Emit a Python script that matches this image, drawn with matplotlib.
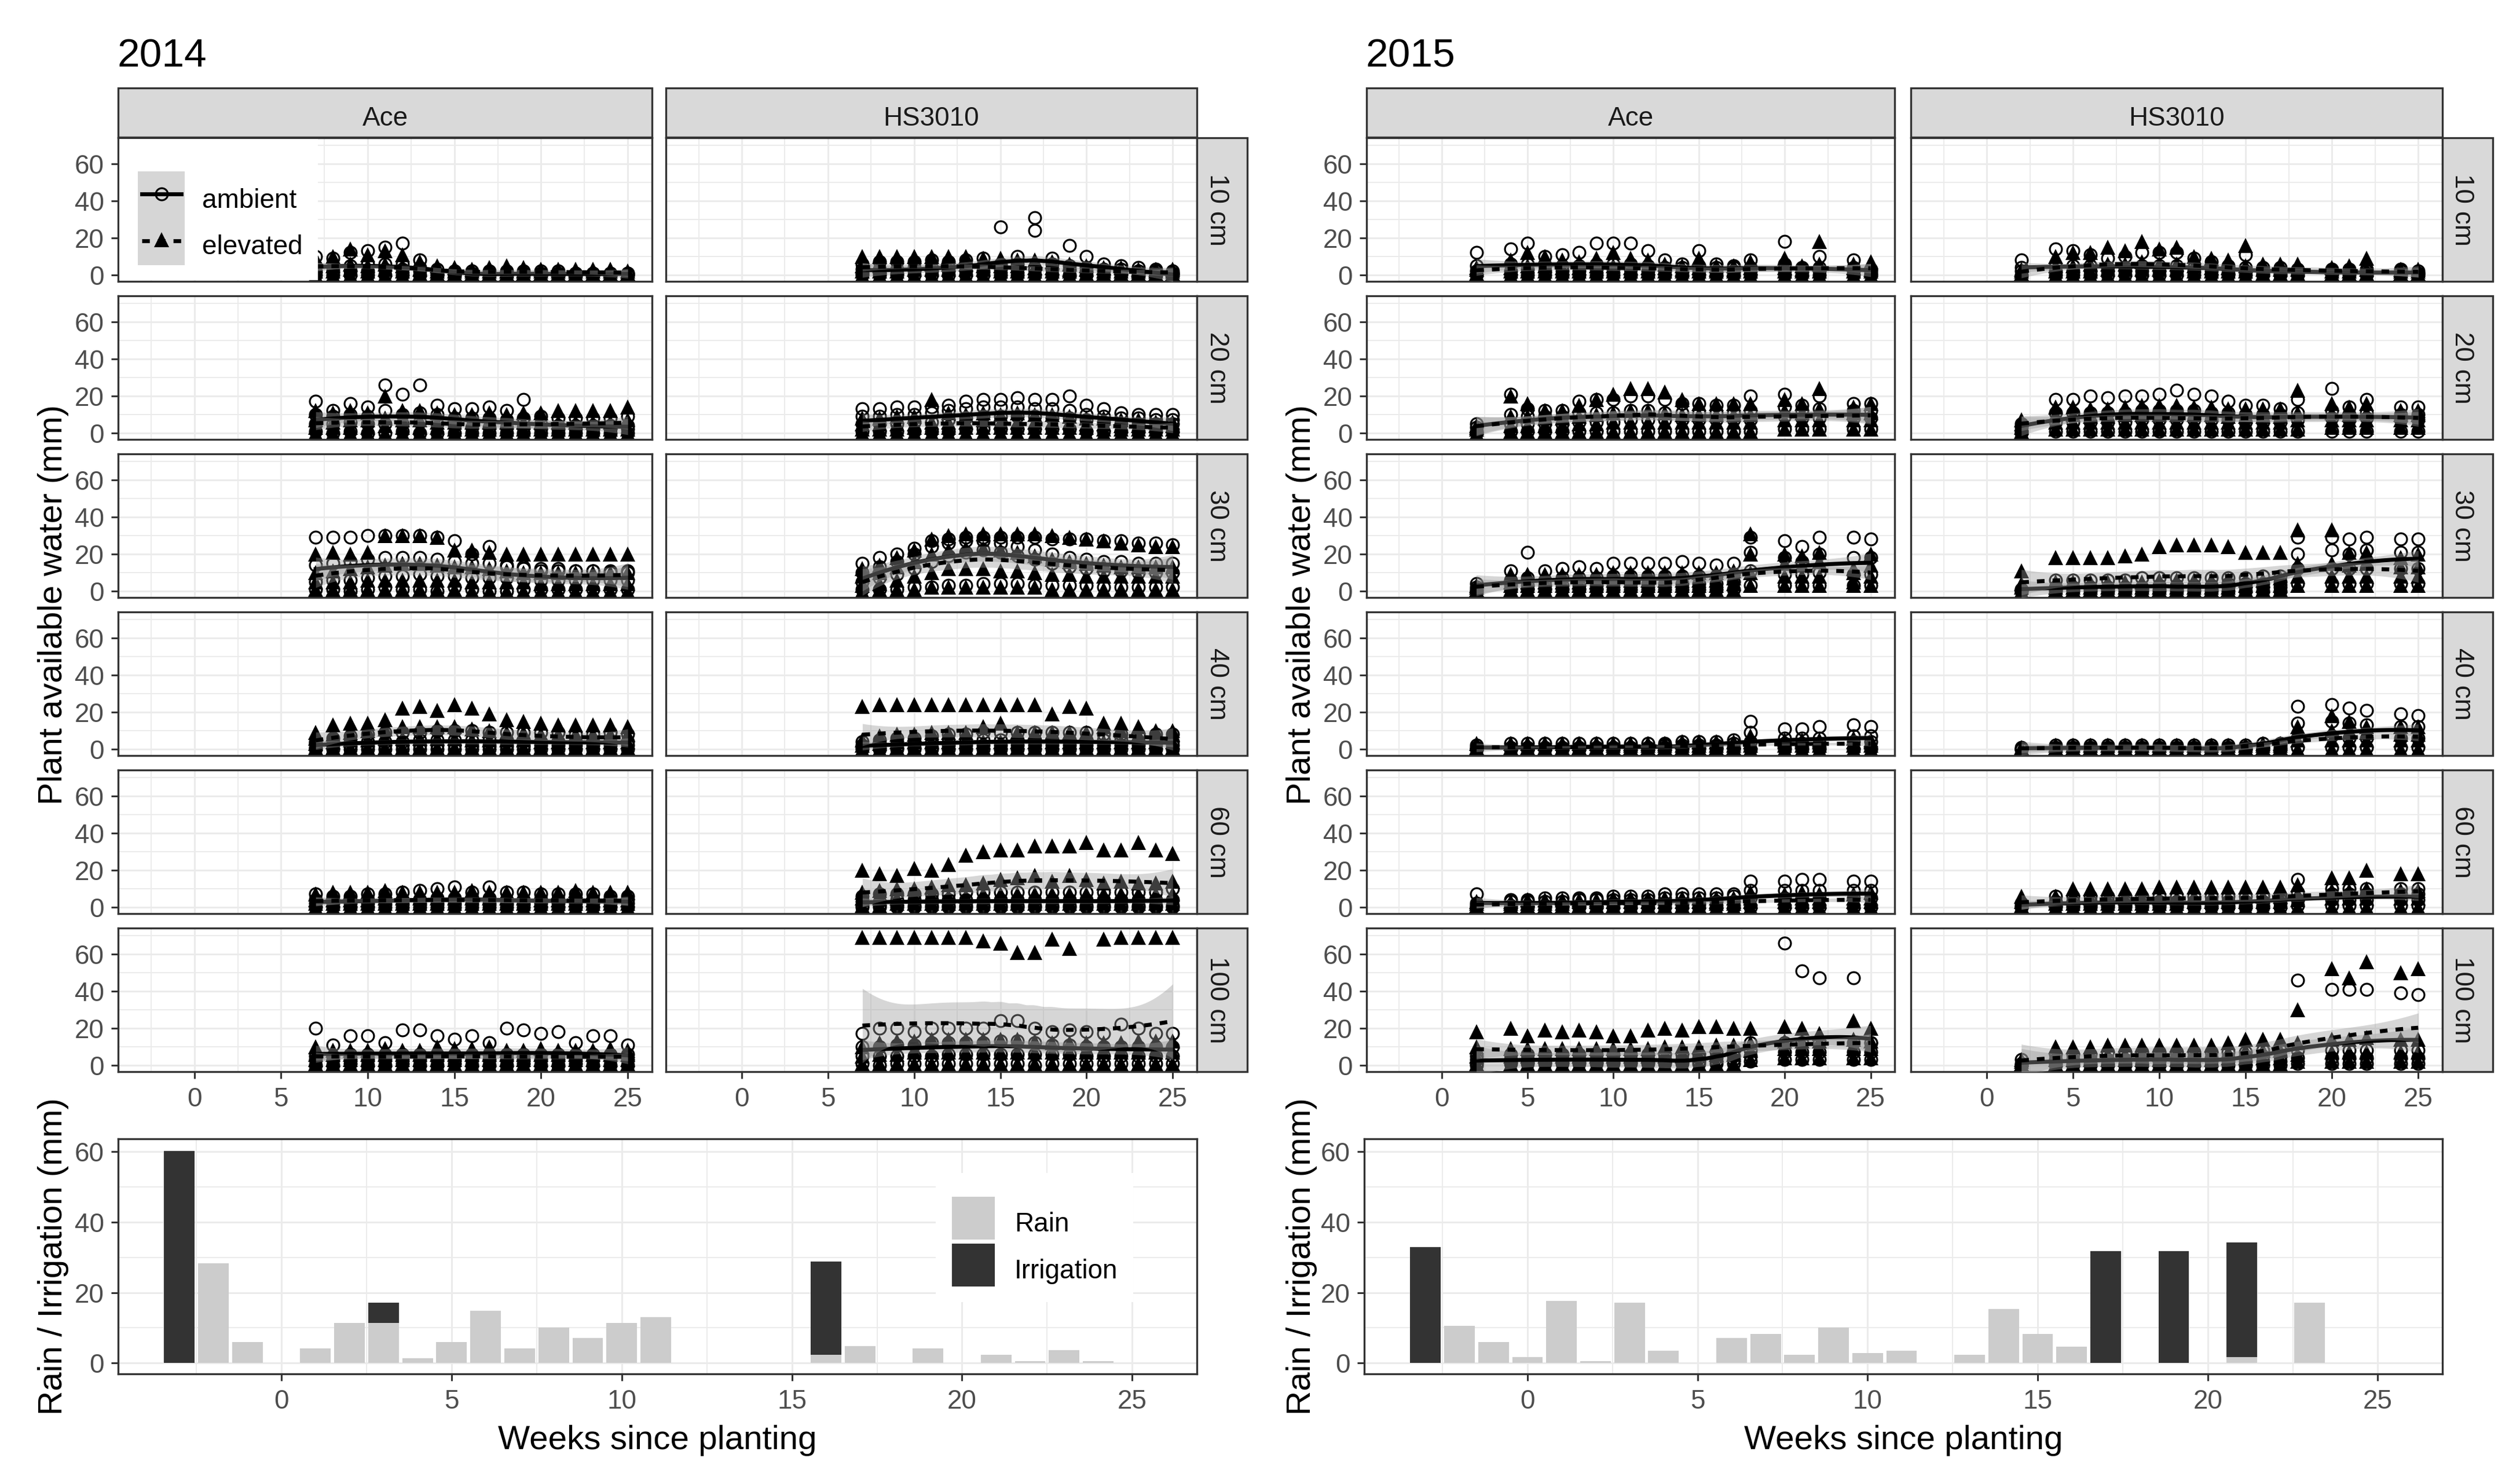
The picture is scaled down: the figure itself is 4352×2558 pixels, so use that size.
import numpy as np
import matplotlib
matplotlib.use("Agg")
import matplotlib.pyplot as plt
from matplotlib.patches import Rectangle

plt.rcParams['font.family'] = ['Liberation Sans', 'DejaVu Sans']

# ------------------------------------------------------------------ data
years = [2014, 2015]
cultivars = ["Ace", "HS3010"]
depths = ["10 cm", "20 cm", "30 cm", "40 cm", "60 cm", "100 cm"]
treatments = ["ambient", "elevated"]

weeks_2014 = [7, 8, 9, 10, 11, 12, 13, 14, 15, 16, 17, 18, 19, 20, 21, 22, 23, 24, 25]
weeks_2015 = [2, 4, 5, 6, 7, 8, 9, 10, 11, 12, 13, 14, 15, 16, 17, 18, 20, 21, 22, 24, 25]

# plant available water (mm); each depth: four replicate rows across the weeks
ace14_ambient = {
    "10 cm": ["10 9 12 13 15 17 8 3 2 2 2 2 2 2 2 1 1 1 1",
              "5 4 5 6 6 6 4 1 1 1 1 1 1 1 1 1 1 1 1",
              "2 2 2 2 3 3 2 0 0 0 0 0 0 0 0 0 0 0 0",
              "0 0 0 0 0 0 0 0 0 0 0 0 0 0 0 0 0 0 0"],
    "20 cm": ["17 12 16 14 26 21 26 15 13 13 14 12 18 9 8 8 8 8 9",
              "10 9 10 9 12 10 11 10 8 8 8 7 8 5 4 4 4 4 4",
              "5 5 6 5 5 5 6 5 4 3 3 3 3 2 2 2 2 2 2",
              "1 0 1 0 0 1 0 0 0 0 0 0 0 0 0 0 0 0 0"],
    "30 cm": ["29 29 29 30 30 30 30 29 27 20 24 14 13 12 12 11 11 11 11",
              "14 15 16 17 18 18 18 17 16 15 15 13 12 11 11 11 11 10 10",
              "5 6 6 7 8 8 9 8 8 7 7 7 6 6 6 6 6 6 6",
              "1 1 0 1 2 1 1 0 2 1 0 0 1 1 1 1 1 1 1"],
    "40 cm": ["4 6 7 8 9 9 9 10 10 10 9 9 9 9 9 8 8 9 8",
              "3 3 4 4 4 4 5 5 5 5 5 5 5 4 4 4 4 4 4",
              "1 2 2 2 2 2 2 2 2 2 2 2 2 2 2 2 2 2 2",
              "0 0 0 0 0 0 0 0 0 0 0 0 0 0 0 0 0 0 0"],
    "60 cm": ["7 6 6 7 7 8 9 10 11 8 11 8 8 7 7 7 7 6 6",
              "4 3 3 4 4 4 4 5 5 5 5 4 4 4 4 4 4 4 4",
              "2 2 2 2 2 2 2 2 2 2 2 2 2 2 2 2 2 2 2",
              "0 0 0 0 0 0 0 0 0 0 0 0 0 0 0 0 0 0 0"],
    "100 cm": ["20 11 16 16 12 19 19 16 14 16 12 20 19 17 18 12 16 16 11",
               "5 5 6 6 6 6 6 6 6 6 6 6 6 6 6 6 6 6 6",
               "3 3 3 3 3 3 3 3 3 3 3 3 3 3 3 3 3 3 3",
               "0 0 1 0 0 1 0 0 1 0 0 0 1 0 0 1 0 0 0"],
}
ace14_elevated = {
    "10 cm": ["9 10 14 11 13 11 7 5 4 3 4 5 4 3 3 3 3 3 2",
              "5 5 6 5 6 5 3 2 2 2 2 2 2 2 2 2 2 2 1",
              "2 2 3 2 3 2 1 1 1 1 1 1 1 1 1 1 1 1 1",
              "0 0 0 0 0 0 0 0 0 0 0 0 0 0 0 0 0 0 0"],
    "20 cm": ["12 11 12 11 20 12 12 11 10 10 11 10 11 11 12 12 12 12 14",
              "7 6 7 7 8 7 7 6 6 6 6 6 6 6 6 6 6 6 7",
              "3 3 3 3 4 3 3 3 2 2 2 2 2 2 2 2 2 2 2",
              "0 0 0 0 0 0 0 0 0 0 0 0 0 0 0 0 0 0 0"],
    "30 cm": ["20 21 20 21 30 30 30 29 22 22 21 20 20 20 20 20 20 20 20",
              "10 11 12 13 14 15 15 14 13 13 12 11 10 10 10 10 10 10 10",
              "5 5 5 6 6 6 6 6 6 5 5 5 5 4 4 4 4 4 4",
              "1 1 1 1 1 1 1 1 1 0 0 0 0 0 0 0 0 0 0"],
    "40 cm": ["9 13 14 14 16 22 23 21 24 22 19 16 15 14 13 13 13 13 12",
              "6 8 9 10 11 12 12 12 12 11 10 9 9 8 8 8 8 8 8",
              "3 4 5 5 6 6 6 6 6 5 5 5 5 4 4 4 4 4 4",
              "1 1 1 1 1 1 1 1 1 1 1 1 1 1 1 1 1 1 1"],
    "60 cm": ["7 8 8 8 9 8 8 8 8 9 8 8 8 8 8 9 8 8 8",
              "4 4 4 4 5 5 5 5 5 5 5 5 5 4 4 4 4 4 4",
              "2 2 2 2 2 2 2 2 2 2 2 2 2 2 2 2 2 2 2",
              "0 0 0 0 0 0 0 0 0 0 0 0 0 0 0 0 0 0 0"],
    "100 cm": ["10 8 8 8 9 8 8 10 9 9 10 8 8 9 8 8 8 9 8",
               "6 6 6 6 6 6 6 6 6 6 6 6 6 6 6 6 6 6 6",
               "3 3 3 3 3 3 3 3 3 3 3 3 3 3 3 3 3 3 3",
               "1 1 1 1 1 1 1 1 1 1 1 1 1 1 1 1 1 1 1"],
}
hs14_ambient = {
    "10 cm": ["6 7 7 7 8 7 8 9 26 10 31 9 16 10 6 5 4 3 2",
              "3 3 3 4 4 4 5 5 6 6 24 6 5 4 3 3 2 2 1",
              "1 1 1 2 2 2 2 2 3 3 3 3 3 2 2 1 1 1 1",
              "0 0 0 0 0 0 0 0 0 0 0 0 0 0 0 0 0 0 0"],
    "20 cm": ["13 13 14 14 14 15 17 18 18 19 18 18 20 15 13 11 10 10 10",
              "9 9 10 10 11 12 13 14 14 14 13 13 12 10 9 8 8 7 7",
              "5 5 5 6 6 7 8 9 9 9 9 8 8 7 6 5 5 5 5",
              "1 1 1 1 1 1 2 2 2 2 2 2 2 1 1 1 1 1 1"],
    "30 cm": ["15 18 20 23 27 28 29 29 29 29 29 28 28 28 27 27 26 26 25",
              "10 13 16 20 24 26 27 27 26 24 22 20 18 17 16 16 15 15 15",
              "5 7 9 12 16 19 21 22 21 19 17 15 13 12 11 11 10 10 10",
              "1 1 1 2 2 3 3 4 4 4 3 3 3 3 2 2 2 2 2"],
    "40 cm": ["4 5 6 6 7 8 8 9 9 9 9 9 9 9 8 8 8 8 8",
              "2 3 3 3 4 4 4 5 5 5 5 5 5 5 5 5 4 4 4",
              "1 1 1 1 1 2 2 2 2 2 2 2 2 2 2 2 2 2 2",
              "0 0 0 0 0 0 0 0 0 0 0 0 0 0 0 0 0 0 0"],
    "60 cm": ["6 7 7 7 7 7 8 8 8 8 8 8 8 8 8 8 8 8 10",
              "3 3 4 4 4 4 4 4 4 4 4 4 4 4 4 4 4 4 4",
              "1 1 1 1 1 1 1 1 1 1 1 1 1 1 1 1 1 1 1",
              "0 0 0 0 0 0 0 0 0 0 0 0 0 0 0 0 0 0 0"],
    "100 cm": ["17 20 20 18 20 20 20 20 24 24 20 18 19 18 17 22 20 17 17",
               "10 10 11 11 12 12 12 12 13 13 12 11 11 10 10 10 10 10 10",
               "5 5 5 5 5 6 6 6 6 6 6 6 6 5 5 5 5 5 5",
               "1 0 1 1 1 1 1 1 1 1 0 1 1 1 1 1 1 1 1"],
}
hs14_elevated = {
    "10 cm": ["10 10 10 10 10 10 10 9 9 8 8 7 6 5 4 4 3 3 3",
              "5 5 6 6 6 6 6 5 5 5 4 4 3 3 2 2 2 2 2",
              "2 2 2 3 3 3 3 3 2 2 2 2 2 1 1 1 1 1 1",
              "0 0 0 0 0 0 0 0 0 0 0 0 0 0 0 0 0 0 0"],
    "20 cm": ["8 8 9 9 18 11 10 11 10 11 10 10 9 8 8 7 7 6 6",
              "5 5 5 5 6 6 6 7 6 6 6 6 6 5 5 4 4 4 4",
              "2 2 2 3 3 3 3 3 3 3 3 3 3 3 2 2 2 2 2",
              "0 0 0 0 0 0 0 0 0 0 0 0 0 0 0 0 0 0 0"],
    "30 cm": ["12 14 18 22 28 30 31 31 31 31 31 30 29 28 27 26 25 24 24",
              "8 10 13 16 20 22 23 23 22 21 19 17 16 15 14 13 13 13 13",
              "3 4 6 8 10 12 12 12 11 11 10 9 9 8 8 8 8 8 8",
              "0 1 1 1 2 2 2 2 2 2 2 1 1 1 1 1 1 1 1"],
    "40 cm": ["23 24 24 24 24 24 24 24 24 24 24 19 23 22 14 14 12 10 10",
              "5 7 8 8 9 9 9 12 14 9 9 9 9 9 12 10 8 8 8",
              "2 3 4 4 4 4 4 4 4 4 4 4 4 4 4 4 4 4 4",
              "0 0 1 1 1 1 1 1 1 1 1 1 1 1 1 1 1 1 1"],
    "60 cm": ["20 18 17 21 20 23 28 30 31 31 33 33 33 35 31 31 35 31 29",
              "8 9 10 10 11 12 12 13 15 16 17 14 17 15 13 14 13 13 14",
              "5 5 5 6 6 6 6 7 7 7 7 7 7 7 7 7 7 7 7",
              "1 1 2 2 2 2 2 2 2 2 2 2 2 2 2 2 2 2 2"],
    "100 cm": ["69 69 69 69 69 69 69 67 66 61 61 68 63 nan 68 69 69 69 69",
               "10 12 13 13 14 14 14 14 14 14 13 12 12 12 12 12 13 13 13",
               "5 6 6 7 7 7 7 7 7 7 7 7 7 7 7 7 7 7 7",
               "1 1 1 1 1 1 1 1 1 1 1 1 1 1 1 1 1 1 1"],
}
ace15_ambient = {
    "10 cm": ["12 14 17 10 11 12 17 17 17 13 8 6 13 6 5 8 18 4 10 8 3",
              "5 6 6 5 5 5 6 6 6 5 4 4 5 4 4 4 6 3 4 4 2",
              "2 2 3 2 2 2 3 3 3 2 2 2 2 2 2 2 2 2 2 2 1",
              "0 0 0 0 0 0 0 0 0 0 0 0 0 0 0 0 0 0 0 0 0"],
    "20 cm": ["5 21 13 12 12 17 18 18 20 20 18 16 16 15 15 20 21 15 20 16 16",
              "3 10 9 9 9 11 11 11 12 12 11 11 11 11 11 12 14 12 13 12 12",
              "1 5 5 5 5 6 6 6 7 7 7 7 7 7 7 7 9 8 8 8 8",
              "0 1 1 1 1 1 1 1 1 1 1 1 1 1 1 1 2 2 2 2 2"],
    "30 cm": ["4 11 21 11 12 13 12 15 15 15 15 16 15 14 15 29 27 24 29 29 28",
              "2 6 7 6 7 7 7 8 8 8 8 8 8 8 9 21 18 16 20 18 18",
              "1 3 3 3 3 3 3 4 4 4 4 4 4 4 5 11 9 9 10 9 9",
              "0 1 1 1 1 1 1 1 1 1 1 1 1 1 1 3 3 3 3 3 3"],
    "40 cm": ["2 3 3 3 3 3 3 3 3 3 3 4 4 4 5 15 11 11 12 13 12",
              "1 1 1 1 1 1 1 1 1 1 2 2 2 2 3 9 6 6 6 7 7",
              "0 0 0 0 0 0 1 1 1 1 1 1 1 1 1 4 3 3 3 4 4",
              "0 0 0 0 0 0 0 0 0 0 0 0 0 0 0 0 0 0 0 0 0"],
    "60 cm": ["7 4 4 5 5 5 5 6 6 6 7 7 7 7 7 14 14 15 15 14 14",
              "2 3 3 3 3 4 4 4 4 4 5 5 5 5 6 9 9 9 9 9 9",
              "1 1 1 1 1 1 1 2 2 2 2 2 2 3 3 5 5 5 5 5 5",
              "0 0 0 0 0 0 0 0 0 0 0 0 0 0 0 0 0 0 0 0 0"],
    "100 cm": ["5 6 6 6 6 6 6 6 6 6 6 6 6 7 8 12 66 51 47 47 12",
               "3 3 3 3 3 3 3 3 3 3 3 3 4 4 5 8 12 12 12 12 12",
               "1 2 2 2 2 2 2 2 2 2 2 2 2 2 3 5 7 7 7 7 7",
               "0 1 1 1 1 1 1 1 1 1 1 1 1 1 1 2 3 3 3 3 3"],
}
ace15_elevated = {
    "10 cm": ["4 8 12 10 8 7 9 12 9 8 6 5 9 5 5 7 9 5 18 6 7",
              "3 4 5 5 4 4 5 5 4 4 4 3 4 3 3 4 4 3 6 4 3",
              "1 2 2 2 2 2 2 2 2 2 2 2 2 2 2 2 2 2 2 2 2",
              "0 0 0 0 0 0 0 0 0 0 0 0 0 0 0 0 0 0 0 0 0"],
    "20 cm": ["4 20 16 12 12 15 18 21 24 24 22 18 16 16 16 16 18 16 24 14 16",
              "3 9 9 8 8 9 10 11 12 12 11 10 10 10 10 10 12 11 13 11 11",
              "2 4 4 4 4 5 5 6 6 6 6 6 6 6 6 6 7 7 7 7 7",
              "0 1 1 1 1 1 1 1 1 1 1 1 1 1 1 1 2 2 2 2 2"],
    "30 cm": ["3 9 9 9 9 9 9 10 10 10 10 10 10 10 11 31 20 19 21 12 20",
              "2 5 5 5 5 5 5 6 6 6 6 6 6 6 7 20 15 14 16 10 14",
              "1 3 3 3 3 3 3 3 3 3 3 3 3 3 4 10 8 8 8 5 8",
              "0 1 1 1 1 1 1 1 1 1 1 1 1 1 1 3 3 3 3 3 3"],
    "40 cm": ["3 3 3 3 3 3 3 3 3 3 3 4 4 4 4 7 5 5 5 6 5",
              "1 1 1 1 1 1 1 2 2 2 2 2 2 2 2 4 4 4 4 4 4",
              "0 0 0 0 0 1 1 1 1 1 1 1 1 1 1 2 2 2 2 2 2",
              "0 0 0 0 0 0 0 0 0 0 0 0 0 0 0 0 0 0 0 0 0"],
    "60 cm": ["3 3 4 4 4 4 4 5 5 5 5 5 5 5 5 8 7 8 7 7 8",
              "2 2 2 2 2 3 3 3 3 3 3 3 3 3 3 5 5 5 5 5 5",
              "1 1 1 1 1 1 1 1 1 1 1 1 1 2 2 3 3 3 3 3 3",
              "0 0 0 0 0 0 0 0 0 0 0 0 0 0 0 0 0 0 0 0 0"],
    "100 cm": ["18 20 16 19 18 19 18 16 16 19 20 19 21 21 20 20 21 20 17 24 20",
               "10 9 9 9 9 9 9 9 9 9 10 10 10 11 11 12 13 13 13 14 13",
               "5 5 5 5 5 5 5 5 5 5 5 5 6 6 6 8 9 9 9 9 9",
               "1 1 1 1 1 1 1 1 1 1 1 1 1 1 1 3 4 4 4 4 4"],
}
hs15_ambient = {
    "10 cm": ["8 14 13 11 9 10 12 12 12 9 7 5 11 4 4 3 3 3 3 3 2",
              "4 5 5 5 4 4 5 5 5 4 4 3 4 2 2 2 2 2 2 2 1",
              "2 2 2 2 2 2 2 2 2 2 2 1 2 1 1 1 1 1 1 1 1",
              "0 0 0 0 0 0 0 0 0 0 0 0 0 0 0 0 0 0 0 0 0"],
    "20 cm": ["5 18 18 20 19 20 20 21 23 21 20 17 15 15 13 18 24 14 18 14 14",
              "3 11 11 11 11 11 12 12 12 12 11 11 10 10 10 11 12 10 11 10 10",
              "1 6 6 6 6 6 7 7 7 7 7 7 6 6 6 7 8 7 8 7 7",
              "0 1 1 1 1 1 1 1 1 1 1 1 1 1 1 1 1 1 1 1 1"],
    "30 cm": ["1 6 6 6 6 6 7 7 7 7 7 7 7 8 8 29 29 28 29 28 28",
              "1 2 2 2 2 2 2 3 3 3 3 4 4 4 5 20 22 20 22 21 21",
              "0 1 1 1 1 1 1 1 1 1 1 2 2 2 2 12 12 12 12 12 12",
              "0 0 0 0 0 0 0 0 0 0 0 0 0 0 0 4 4 4 4 4 4"],
    "40 cm": ["1 2 2 2 2 2 2 2 2 2 2 2 2 3 3 23 24 22 21 19 18",
              "0 1 1 1 1 1 1 1 1 1 1 1 1 1 2 14 15 14 13 12 12",
              "0 0 0 0 0 0 0 0 0 0 0 0 0 1 1 6 7 6 6 6 6",
              "0 0 0 0 0 0 0 0 0 0 0 0 0 0 0 1 1 1 1 1 1"],
    "60 cm": ["2 6 6 6 6 6 6 6 6 6 6 6 6 6 6 15 10 10 10 10 10",
              "1 3 3 3 3 3 3 3 3 3 3 3 3 3 4 8 7 7 7 7 7",
              "0 1 1 1 1 1 1 1 1 1 1 1 1 1 2 4 4 4 4 4 4",
              "0 0 0 0 0 0 0 0 0 0 0 0 0 0 0 1 1 1 1 1 1"],
    "100 cm": ["3 6 6 6 7 7 7 7 7 7 7 7 7 8 8 46 41 41 41 39 38",
               "1 3 3 3 3 3 4 4 4 4 4 4 5 5 5 8 8 8 8 8 8",
               "0 1 1 1 1 1 1 2 2 2 2 2 2 2 2 4 4 4 4 4 4",
               "0 0 0 0 0 0 0 0 0 0 0 0 0 0 0 1 1 1 1 1 1"],
}
hs15_elevated = {
    "10 cm": ["3 10 12 12 15 13 18 14 15 10 9 8 16 6 6 6 4 5 9 3 3",
              "2 5 5 6 6 6 7 6 6 5 4 4 5 3 3 3 2 2 3 2 2",
              "1 2 2 2 3 3 3 3 3 2 2 2 2 1 1 1 1 1 1 1 1",
              "0 0 0 0 0 0 0 0 0 0 0 0 0 0 0 0 0 0 0 0 0"],
    "20 cm": ["7 14 14 13 13 14 15 15 15 14 14 13 13 13 13 23 16 14 16 12 12",
              "5 10 10 9 9 10 10 10 10 10 10 9 9 9 9 11 11 10 11 10 10",
              "3 6 6 6 6 6 6 6 6 6 6 6 6 6 6 7 7 7 7 7 7",
              "1 2 2 2 2 2 2 2 2 2 2 2 2 2 2 2 3 3 3 3 3"],
    "30 cm": ["11 18 18 18 18 19 20 24 25 25 25 24 21 21 21 33 33 21 21 18 20",
              "4 5 5 5 5 5 5 6 6 6 6 6 6 6 7 15 15 14 15 13 13",
              "2 2 2 2 2 2 2 2 2 2 2 2 3 3 3 8 8 8 8 8 8",
              "0 1 1 1 1 1 1 1 1 1 1 1 1 1 1 3 3 3 3 3 3"],
    "40 cm": ["1 2 2 2 2 2 2 2 2 2 2 2 2 3 3 12 18 15 12 12 12",
              "0 1 1 1 1 1 1 1 1 1 1 1 1 2 2 10 10 9 9 8 8",
              "0 0 0 0 0 0 0 0 0 0 0 0 0 1 1 5 5 5 5 5 5",
              "0 0 0 0 0 0 0 0 0 0 0 0 0 0 0 0 0 0 0 0 0"],
    "60 cm": ["6 6 10 10 10 10 10 11 11 11 11 11 11 11 11 12 16 16 20 18 18",
              "3 4 5 5 5 5 5 5 5 6 6 6 6 6 6 7 9 9 10 9 9",
              "1 2 2 2 2 2 2 2 2 3 3 3 3 3 3 4 5 5 5 5 5",
              "0 0 0 0 0 0 0 0 0 0 0 0 0 0 0 0 0 0 0 0 0"],
    "100 cm": ["3 10 10 10 11 11 11 11 11 11 11 12 14 14 14 30 52 47 56 50 52",
               "2 6 6 6 6 6 6 6 7 7 7 7 8 8 8 12 14 14 15 14 14",
               "1 3 3 3 3 3 3 3 3 3 3 4 4 4 4 6 7 7 7 7 7",
               "0 1 1 1 1 1 1 1 1 1 1 1 1 1 1 2 2 2 2 2 2"],
}

# weekly rain and irrigation (mm)
bar_weeks_2014 = list(range(-3, 25))
rain_2014 = [0, 28.4, 5.9, 0, 4.1, 11.3, 11.3, 1.3, 5.9, 14.8,
             4.1, 10.1, 7.1, 11.3, 13.1, 0, 0, 0, 0, 2.4,
             4.8, 0, 4.1, 0, 2.4, 0.6, 3.6, 0.6]
irrigation_2014 = [60.2, 0, 0, 0, 0, 0, 5.9, 0, 0, 0,
                   0, 0, 0, 0, 0, 0, 0, 0, 0, 26.5,
                   0, 0, 0, 0, 0, 0, 0, 0]
bar_weeks_2015 = list(range(-3, 24))
rain_2015 = [0, 10.6, 5.9, 1.7, 17.7, 0.6, 17.1, 3.5, 0, 7.1,
             8.2, 2.4, 10.0, 2.9, 3.5, 0, 2.4, 15.4, 8.2, 4.7,
             0, 0, 0, 0, 1.7, 0, 17.1]
irrigation_2015 = [33.0, 0, 0, 0, 0, 0, 0, 0, 0, 0,
                   0, 0, 0, 0, 0, 0, 0, 0, 0, 0,
                   31.8, 0, 31.8, 0, 32.5, 0, 0]

water = {
    (2014, "Ace", "ambient"): ace14_ambient, (2014, "Ace", "elevated"): ace14_elevated,
    (2014, "HS3010", "ambient"): hs14_ambient, (2014, "HS3010", "elevated"): hs14_elevated,
    (2015, "Ace", "ambient"): ace15_ambient, (2015, "Ace", "elevated"): ace15_elevated,
    (2015, "HS3010", "ambient"): hs15_ambient, (2015, "HS3010", "elevated"): hs15_elevated,
}
weeks = {2014: weeks_2014, 2015: weeks_2015}
bars = {2014: (bar_weeks_2014, rain_2014, irrigation_2014),
        2015: (bar_weeks_2015, rain_2015, irrigation_2015)}


def parse(rows, n):
    out = []
    for r in rows:
        v = [float(t) for t in r.split()]
        if len(v) < n:
            v += [np.nan] * (n - len(v))
        out.append(v[:n])
    return np.array(out)


def loess(x, y, grid, span=0.75):
    ok = ~np.isnan(y)
    x = x[ok]
    y = y[ok]
    n = x.size
    q = int(np.floor(n * span))

    def lrow(x0):
        d = np.abs(x - x0)
        h = max(np.sort(d)[q - 1], 1e-6) * 1.0001
        u = np.minimum(d / h, 1.0)
        w = (1 - u ** 3) ** 3
        dx = x - x0
        X = np.column_stack([np.ones(n), dx, dx ** 2])
        XtW = X.T * w
        return np.linalg.solve(XtW @ X, XtW)[0]

    L = np.array([lrow(v) for v in x])
    R = np.eye(n) - L
    RR = R.T @ R
    d1 = np.trace(RR)
    d2 = np.trace(RR @ RR)
    sigma = np.sqrt(np.sum((R @ y) ** 2) / d1)
    df = d1 ** 2 / d2
    tq = 1.96 + 2.4 / df
    fit = np.empty(grid.size)
    se = np.empty(grid.size)
    for i, v in enumerate(grid):
        l = lrow(v)
        fit[i] = l @ y
        se[i] = sigma * np.sqrt(np.sum(l ** 2))
    return fit, fit - tq * se, fit + tq * se


# ------------------------------------------------------------------ layout
W, H, DPI = 4352, 2558, 200
fig = plt.figure(figsize=(W / DPI, H / DPI), dpi=DPI, facecolor='white')

TICK_FS = 16.5
STRIP_FS = 16.5
AXT_FS = 21
TITLE_FS = 25
GRID_C = '#EBEBEB'
BORDER_C = '#333333'
STRIP_C = '#D9D9D9'
RIBBON_C = '#999999'

col_x = {2014: [(204, 1126), (1150, 2067)], 2015: [(2360, 3272), (3300, 4218)]}
row_top = [238, 511, 784, 1057, 1330, 1603]
row_h = 248
strip_top = (152, 237)
strip_w = 87
bar_box = {2014: (204, 1967, 2067, 2373), 2015: (2356, 1967, 4218, 2373)}


def px_axes(x0, y0, x1, y1, **kw):
    return fig.add_axes([x0 / W, 1 - y1 / H, (x1 - x0) / W, (y1 - y0) / H], **kw)


def style(ax, xmaj, xmin, ymaj, ymin):
    ax.set_facecolor('white')
    ax.set_xticks(xmaj)
    ax.set_xticks(xmin, minor=True)
    ax.set_yticks(ymaj)
    ax.set_yticks(ymin, minor=True)
    ax.grid(which='major', color=GRID_C, lw=1.1)
    ax.grid(which='minor', color=GRID_C, lw=0.7)
    ax.set_axisbelow(True)
    for s in ax.spines.values():
        s.set_color(BORDER_C)
        s.set_linewidth(1.2)
    ax.tick_params(which='minor', length=0)
    ax.tick_params(which='major', length=4.2, width=1.1, color=BORDER_C,
                   labelsize=TICK_FS, labelcolor='#4D4D4D')
    ax.tick_params(axis='x', pad=5)
    ax.tick_params(axis='y', pad=4.5)


ov = fig.add_axes([0, 0, 1, 1], zorder=20)
ov.set_xlim(0, W)
ov.set_ylim(H, 0)
ov.axis('off')

xmaj = [0, 5, 10, 15, 20, 25]
xmin = [-2.5, 2.5, 7.5, 12.5, 17.5, 22.5]

for year in years:
    wk = np.array(weeks[year], dtype=float)
    n = wk.size
    grid = np.linspace(wk.min(), wk.max(), 90)
    for ci, cv in enumerate(cultivars):
        x0, x1 = col_x[year][ci]
        for ri, dp in enumerate(depths):
            top = row_top[ri]
            ax = px_axes(x0, top, x1, top + row_h)
            ax.set_xlim(-4.4, 26.4)
            ax.set_ylim(-3.5, 74)
            style(ax, xmaj, xmin, [0, 20, 40, 60], [10, 30, 50, 70])
            if ci > 0:
                ax.tick_params(axis='y', which='both', left=False, labelleft=False)
            if ri < len(depths) - 1:
                ax.tick_params(axis='x', which='both', bottom=False, labelbottom=False)
            data = {}
            for tr in treatments:
                vals = parse(water[(year, cv, tr)][dp], n)
                xs = np.tile(wk, vals.shape[0])
                ys = vals.ravel()
                data[tr] = (xs, ys)
                if tr == 'ambient':
                    ax.plot(xs, ys, 'o', ms=7.5, mfc='none', mec='black', mew=1.15,
                            ls='none', zorder=2)
                else:
                    ax.plot(xs, ys, '^', ms=9.5, color='black', mew=0,
                            ls='none', zorder=2.1)
            for k, tr in enumerate(treatments):
                xs, ys = data[tr]
                fit, lo, hi = loess(xs, ys, grid)
                ax.fill_between(grid, lo, hi, color=RIBBON_C, alpha=0.4, lw=0,
                                zorder=3 + k)
                ls = '-' if tr == 'ambient' else (0, (1.9, 2.0))
                ax.plot(grid, fit, color='black', lw=2.5, ls=ls, zorder=3.5 + k)
            # right strip
            if ci == 1:
                ov.add_patch(Rectangle((x1, top), strip_w, row_h, fc=STRIP_C,
                                       ec=BORDER_C, lw=1.2, zorder=1))
                ov.text(x1 + strip_w / 2 - 9, top + row_h / 2, dp, rotation=270,
                        ha='center', va='center', fontsize=STRIP_FS, color='#1A1A1A')
        # top strip
        ov.add_patch(Rectangle((x0, strip_top[0]), x1 - x0, strip_top[1] - strip_top[0],
                               fc=STRIP_C, ec=BORDER_C, lw=1.2, zorder=1))
        ov.text((x0 + x1) / 2, 217, cv,
                ha='center', va='baseline', fontsize=STRIP_FS, color='#1A1A1A')

    # bar chart
    bx0, by0, bx1, by1 = bar_box[year]
    bax = px_axes(bx0, by0, bx1, by1)
    bw, rain, irr = bars[year]
    bax.bar(bw, rain, width=0.9, color='#CCCCCC', lw=0, zorder=2)
    bax.bar(bw, irr, bottom=rain, width=0.9, color='#333333', lw=0, zorder=2)
    bax.set_xlim(-4.8, 26.9)
    bax.set_ylim(-3.1, 63.7)
    style(bax, xmaj, xmin, [0, 20, 40, 60], [10, 30, 50])

    # titles and axis labels
    xoff = col_x[year][0][0]
    ov.text(xoff - 1, 116, str(year), ha='left', va='baseline', fontsize=TITLE_FS,
            color='black')
    ov.text(xoff - 112, (row_top[0] + row_top[-1] + row_h) / 2,
            'Plant available water (mm)', rotation=90, ha='center', va='center',
            fontsize=AXT_FS, color='black')
    ov.text(xoff - 112, (by0 + by1) / 2, 'Rain / Irrigation (mm)', rotation=90,
            ha='center', va='center', fontsize=AXT_FS, color='black')
    ov.text((bx0 + bx1) / 2, 2503, 'Weeks since planting', ha='center',
            va='baseline', fontsize=AXT_FS, color='black')

# legend inside 2014 Ace 10 cm panel
ov.add_patch(Rectangle((206, 240), 549 - 206, 484 - 240, fc='white', ec='none', zorder=2))
ov.add_patch(Rectangle((238, 296), 81, 162, fc='#D6D6D6', ec='none', zorder=3))
ov.plot([245, 313], [335, 335], color='black', lw=2.5, zorder=4)
ov.plot([279], [335], 'o', ms=7.5, mfc='none', mec='black', mew=1.15, zorder=5)
ov.plot([245, 313], [416, 416], color='black', lw=2.5, ls=(0, (1.9, 2.0)), zorder=4)
ov.plot([279], [414], '^', ms=9.5, color='black', mew=0, zorder=5)
ov.text(349, 359, 'ambient', ha='left', va='baseline', fontsize=TICK_FS, color='black', zorder=6)
ov.text(349, 439, 'elevated', ha='left', va='baseline', fontsize=TICK_FS, color='black', zorder=6)

# legend inside 2014 bar chart
ov.add_patch(Rectangle((1616, 2026), 1957 - 1616, 2249 - 2026, fc='white', ec='none', zorder=2))
ov.add_patch(Rectangle((1644, 2067), 74, 74, fc='#CCCCCC', ec='none', zorder=3))
ov.add_patch(Rectangle((1644, 2148), 74, 74, fc='#333333', ec='none', zorder=3))
ov.text(1752, 2127, 'Rain', ha='left', va='baseline', fontsize=TICK_FS, color='black', zorder=6)
ov.text(1752, 2208, 'Irrigation', ha='left', va='baseline', fontsize=TICK_FS, color='black', zorder=6)

fig.savefig('out.png', dpi=DPI, facecolor='white')
